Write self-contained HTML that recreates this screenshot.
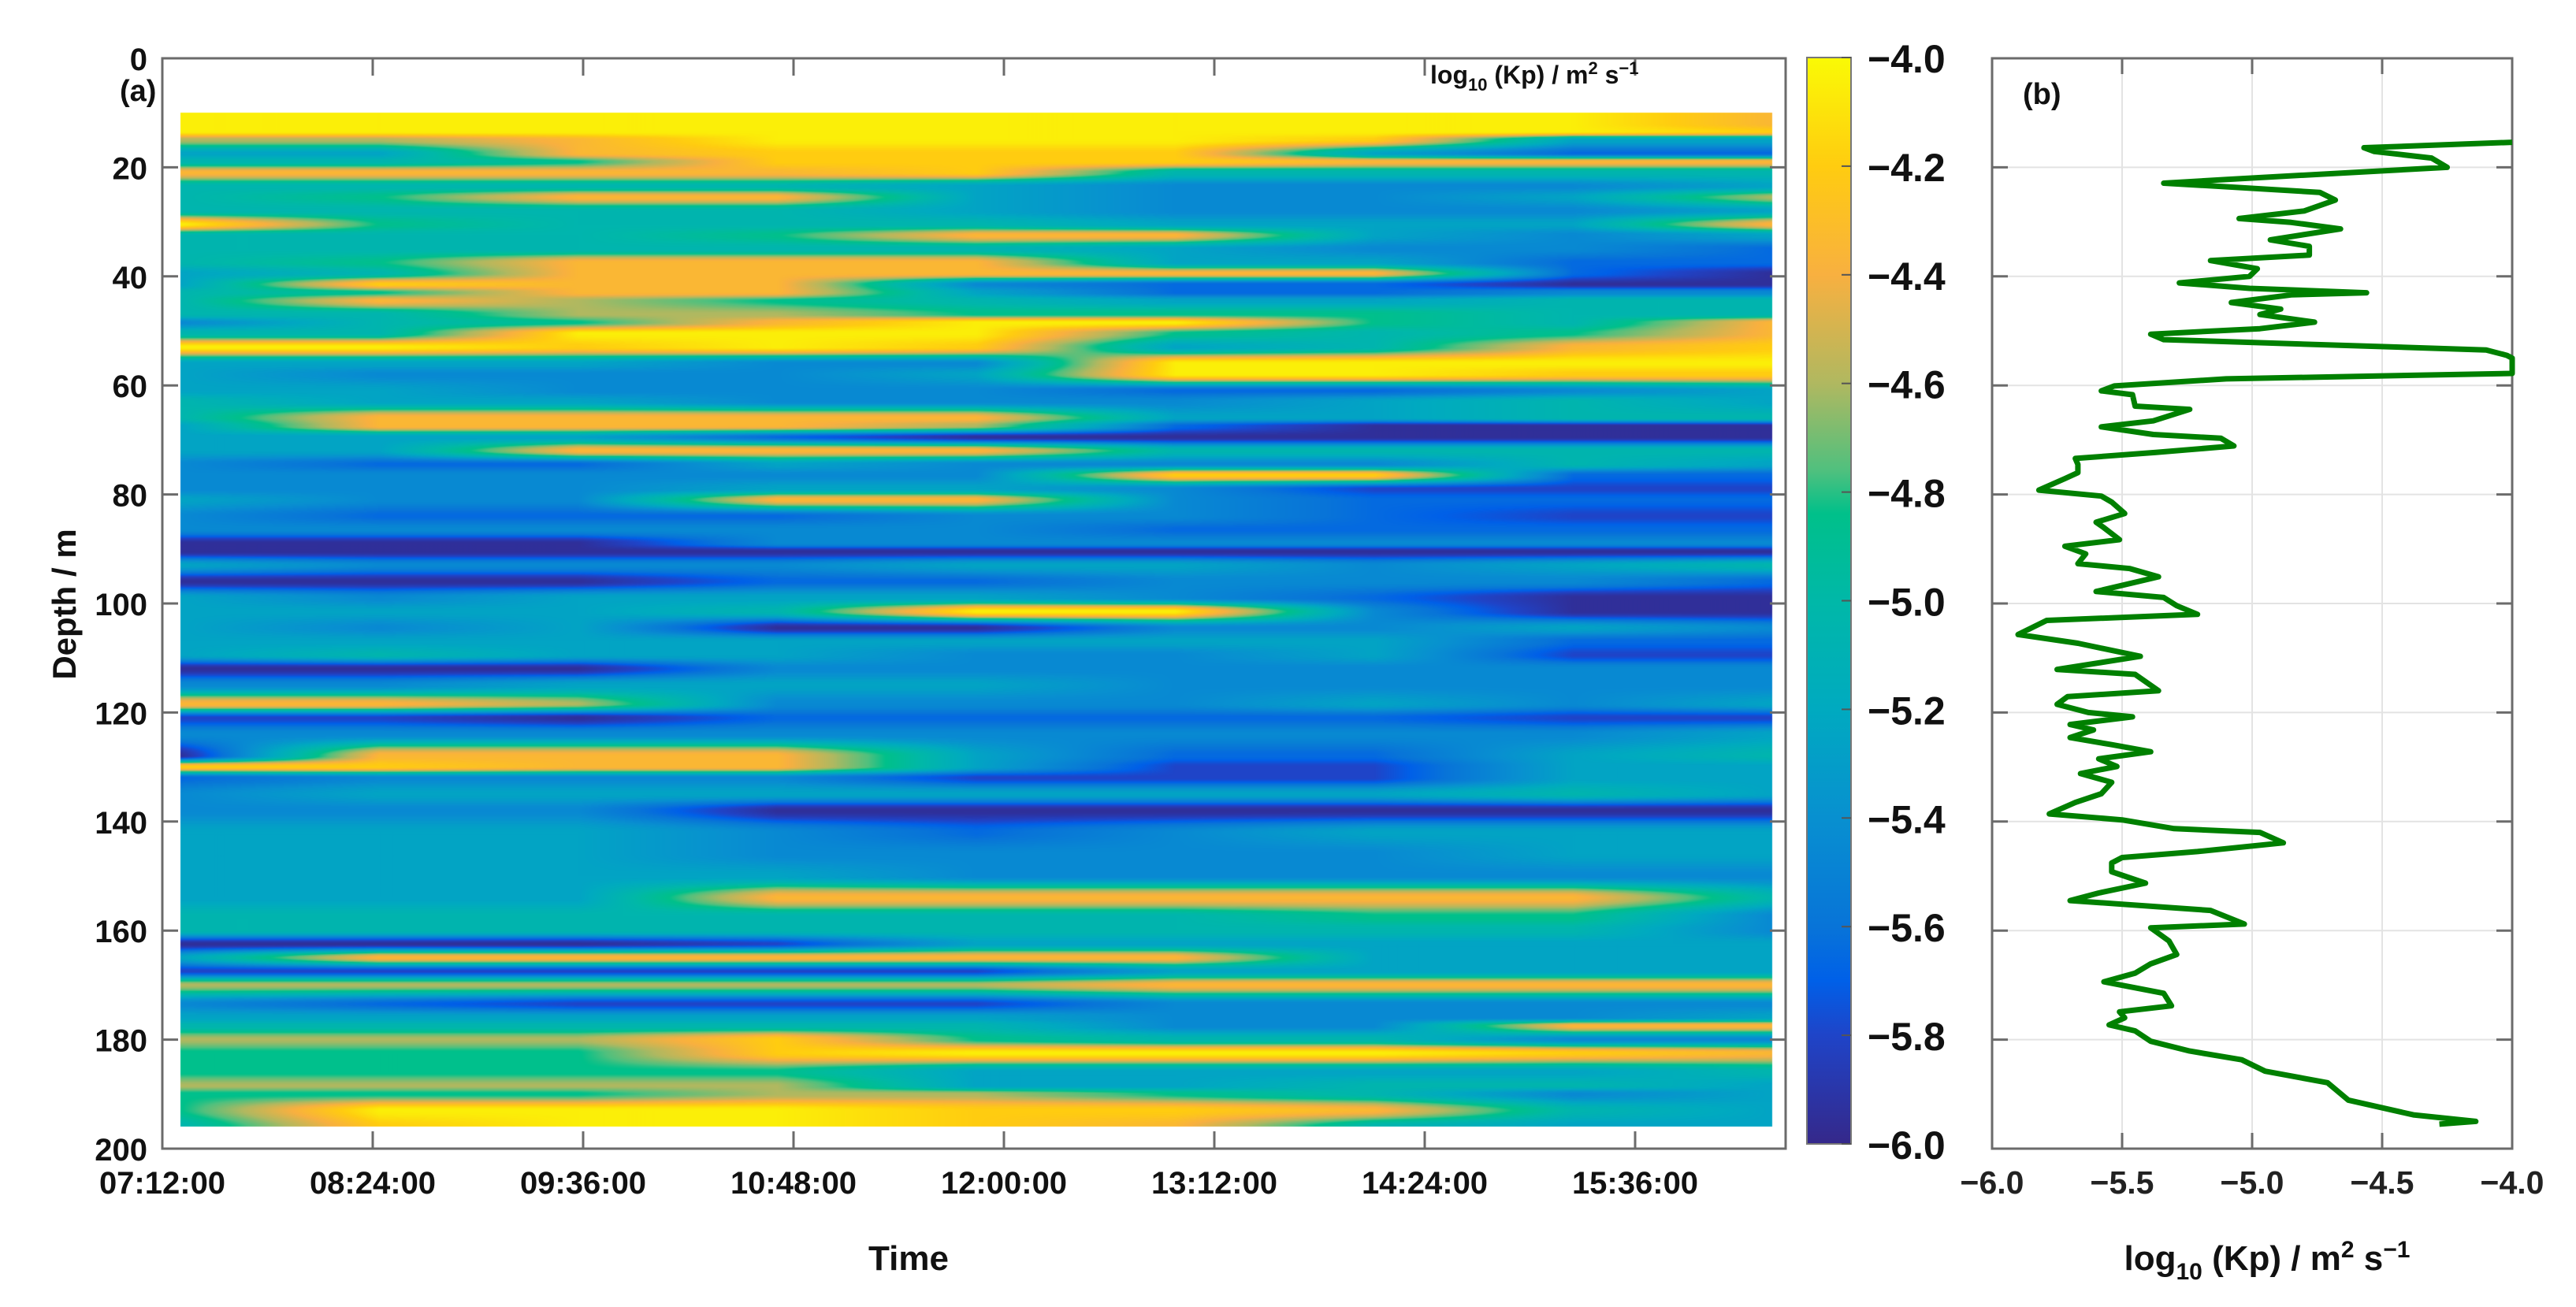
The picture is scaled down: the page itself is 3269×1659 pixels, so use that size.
<!DOCTYPE html>
<html><head><meta charset="utf-8"><style>
html,body{margin:0;padding:0;background:#fff;}
#wrap{position:relative;width:3269px;height:1659px;overflow:hidden;font-family:"Liberation Sans",Arial,sans-serif;}
canvas,svg{position:absolute;left:0;top:0;}
</style></head><body>
<div id="wrap">
<canvas id="hm" width="3269" height="1659"></canvas>
<svg id="sv" width="3269" height="1659"></svg>
</div>
<script>
// ---- heatmap data (panel a) ----
const timeNodes = [6.2, 74.3, 142.4, 210.5, 278.6, 346.7, 414.8, 482.9, 551]; // minutes since 07:12
const depthRows = [10,12,13.5,15,17.5,19,21,23.5,25.5,28,30.5,32.5,35,37.5,39.5,41.5,43,44.5,47,48.5,50.5,53,56,58,61,63,66,67.5,69.5,72,74.5,76.5,79,81,84,86.5,89,90.5,93,96,99,101.5,104.5,107,109.5,112,115,118.5,121,124,128,130,132,135,138,142,146,150,154,157.5,160,162.5,165,167.5,170,173.5,176,177.5,180,182.5,186,188.5,190,193,196];
const kpGrid = [
[-4.05,-4.05,-4.05,-4.05,-4.05,-4.05,-4.05,-4.05,-4.35],
[-4.05,-4.05,-4.05,-4.05,-4.05,-4.05,-4.05,-4.05,-4.35],
[-4.05,-4.05,-4.05,-4.05,-4.05,-4.05,-4.05,-4.05,-4.2],
[-4.6,-4.6,-4.35,-4.05,-4.05,-4.05,-4.2,-5.25,-5.25],
[-5.25,-5.25,-4.35,-4.2,-4.2,-4.2,-5.25,-5.65,-5.65],
[-5.05,-5.05,-4.85,-4.2,-4.2,-4.2,-4.35,-4.35,-4.35],
[-4.35,-4.35,-4.35,-4.35,-4.2,-5.05,-5.05,-5.05,-5.05],
[-5.05,-5.05,-5.05,-5.05,-5.25,-5.45,-5.45,-5.45,-5.25],
[-5.05,-4.85,-4.35,-4.35,-5.25,-5.45,-5.45,-5.25,-4.6],
[-5.05,-5.05,-5.05,-5.05,-5.25,-5.45,-5.45,-5.45,-5.25],
[-4.05,-4.85,-5.05,-5.05,-5.05,-5.25,-5.25,-5.25,-4.35],
[-5.05,-5.05,-5.05,-4.85,-4.35,-4.35,-5.25,-5.45,-5.25],
[-5.05,-5.05,-5.05,-5.05,-5.05,-5.25,-5.45,-5.45,-5.65],
[-5.05,-4.85,-4.35,-4.35,-4.35,-5.25,-5.25,-5.65,-5.65],
[-5.25,-5.05,-4.35,-4.35,-4.35,-4.35,-4.35,-5.65,-5.95],
[-5.25,-4.2,-4.35,-4.35,-5.45,-5.65,-5.65,-5.95,-5.95],
[-5.05,-4.85,-4.35,-4.35,-5.25,-5.65,-5.65,-5.45,-5.45],
[-5.05,-4.35,-4.6,-4.85,-5.05,-5.25,-5.25,-5.05,-5.05],
[-5.05,-5.05,-4.6,-4.6,-4.85,-4.85,-4.85,-5.05,-5.05],
[-5.45,-5.05,-4.85,-4.35,-4.05,-4.05,-4.85,-5.05,-4.35],
[-5.05,-5.05,-4.05,-4.05,-4.05,-4.85,-5.05,-4.85,-4.35],
[-4.05,-4.05,-4.2,-4.05,-4.2,-5.25,-5.05,-4.35,-4.2],
[-5.25,-5.25,-5.25,-5.45,-5.45,-4.05,-4.05,-4.05,-4.05],
[-5.25,-5.45,-5.45,-5.45,-5.25,-4.05,-4.05,-4.2,-4.2],
[-5.25,-5.25,-5.45,-5.45,-5.45,-5.65,-5.65,-5.45,-5.25],
[-5.05,-5.25,-5.25,-5.45,-5.45,-5.45,-5.25,-5.05,-5.25],
[-5.05,-4.35,-4.35,-4.35,-4.35,-5.25,-5.25,-5.05,-5.05],
[-5.25,-4.35,-4.35,-4.35,-4.6,-5.65,-5.95,-5.95,-5.95],
[-5.25,-5.25,-5.25,-5.65,-5.95,-5.95,-5.95,-5.95,-5.95],
[-5.25,-5.25,-4.35,-4.35,-4.35,-5.05,-5.05,-5.05,-5.05],
[-5.45,-5.65,-5.65,-5.25,-5.45,-5.45,-5.45,-5.05,-5.25],
[-5.45,-5.45,-5.45,-5.45,-5.45,-4.2,-4.2,-5.65,-5.65],
[-5.45,-5.45,-5.45,-5.25,-5.25,-5.45,-5.8,-5.8,-5.8],
[-5.25,-5.45,-5.45,-4.35,-4.35,-5.45,-5.65,-5.65,-5.65],
[-5.45,-5.65,-5.65,-5.65,-5.45,-5.45,-5.65,-5.8,-5.8],
[-5.45,-5.45,-5.45,-5.45,-5.45,-5.65,-5.65,-5.65,-5.65],
[-5.95,-5.95,-5.95,-5.45,-5.45,-5.45,-5.45,-5.45,-5.45],
[-5.95,-5.95,-5.95,-5.95,-5.95,-5.95,-5.95,-5.95,-5.95],
[-5.25,-5.45,-5.45,-5.45,-5.25,-5.25,-5.45,-5.25,-5.05],
[-5.95,-5.95,-5.95,-5.65,-5.65,-5.45,-5.45,-5.45,-5.65],
[-5.25,-5.45,-5.25,-5.25,-5.25,-5.45,-5.65,-5.95,-5.95],
[-5.25,-5.25,-5.25,-5.05,-4.05,-4.05,-5.45,-5.95,-5.95],
[-5.25,-5.45,-5.25,-5.95,-5.95,-5.45,-5.45,-5.25,-5.45],
[-5.25,-5.25,-5.25,-5.25,-5.25,-5.25,-5.25,-5.65,-5.65],
[-5.25,-5.05,-5.25,-5.25,-5.45,-5.45,-5.25,-5.8,-5.8],
[-5.95,-5.95,-5.95,-5.45,-5.45,-5.45,-5.45,-5.45,-5.45],
[-5.45,-5.45,-5.25,-5.25,-5.25,-5.45,-5.45,-5.45,-5.45],
[-4.35,-4.35,-4.6,-5.45,-5.45,-5.45,-5.25,-5.45,-5.25],
[-5.8,-5.8,-5.95,-5.65,-5.65,-5.65,-5.65,-5.8,-5.8],
[-5.45,-5.45,-5.45,-5.45,-5.45,-5.45,-5.45,-5.45,-5.25],
[-5.95,-4.35,-4.35,-4.35,-5.25,-5.65,-5.65,-5.25,-5.05],
[-4.2,-4.2,-4.35,-4.35,-5.25,-5.8,-5.8,-5.25,-5.25],
[-5.65,-5.45,-5.45,-5.45,-5.8,-5.8,-5.8,-5.25,-5.25],
[-5.45,-5.25,-5.25,-5.25,-5.25,-5.25,-5.25,-5.05,-5.25],
[-5.45,-5.45,-5.45,-5.95,-5.95,-5.95,-5.95,-5.95,-5.95],
[-5.25,-5.25,-5.25,-5.45,-5.65,-5.45,-5.25,-5.25,-5.25],
[-5.25,-5.25,-5.25,-5.45,-5.45,-5.45,-5.45,-5.25,-5.25],
[-5.25,-5.25,-5.25,-5.25,-5.45,-5.45,-5.45,-5.45,-5.45],
[-5.25,-5.25,-5.25,-4.35,-4.35,-4.35,-4.35,-4.35,-5.05],
[-5.05,-5.05,-5.05,-5.05,-5.05,-5.05,-4.85,-4.85,-5.45],
[-5.05,-5.05,-5.05,-5.05,-5.05,-5.05,-5.05,-5.05,-5.45],
[-5.95,-5.95,-5.95,-5.8,-5.25,-5.25,-5.25,-5.25,-5.25],
[-5.25,-4.35,-4.35,-4.35,-4.35,-4.35,-5.25,-5.25,-5.25],
[-5.8,-5.8,-5.8,-5.8,-5.8,-5.25,-5.25,-5.25,-5.25],
[-4.6,-4.6,-4.6,-4.6,-4.6,-4.35,-4.35,-4.35,-4.35],
[-5.45,-5.65,-5.8,-5.8,-5.8,-5.45,-5.45,-5.45,-5.45],
[-5.25,-5.25,-5.25,-5.25,-5.25,-5.45,-5.45,-5.45,-5.25],
[-5.05,-5.05,-5.05,-5.05,-5.05,-5.45,-5.45,-4.35,-4.35],
[-4.6,-4.6,-4.6,-4.2,-4.85,-5.05,-5.05,-5.45,-5.45],
[-4.85,-4.85,-4.85,-4.2,-4.05,-4.05,-4.05,-4.2,-4.35],
[-4.85,-4.85,-4.85,-4.85,-5.25,-5.25,-5.25,-5.25,-5.05],
[-4.6,-4.6,-4.6,-4.6,-5.25,-5.25,-5.05,-5.05,-5.25],
[-4.85,-4.85,-4.85,-4.6,-4.6,-4.85,-5.05,-5.45,-5.25],
[-4.85,-4.05,-4.05,-4.05,-4.2,-4.2,-4.35,-5.05,-5.25],
[-5.05,-4.2,-4.05,-4.05,-4.2,-4.35,-5.05,-5.25,-5.25]
];
// ---- profile data (panel b) ----
const profDepth = [15.4,16.4,17.1,18.3,20,20.7,22.2,22.9,23.4,24.6,26,28,29.4,30.1,31.3,33.3,34.5,36.1,37.1,38.6,40,41.2,42.2,43,43.4,44.8,46,47,48.4,49.6,50.6,51.6,53.5,54.5,55,57.8,58.8,60.1,61,61.7,63.8,64.4,66.5,67.6,69,69.7,71.1,72.3,73.4,74.5,76,77.1,79.2,80.3,81.4,83.5,85.1,86.1,88.3,89.5,90.9,92.7,93.6,95.1,97.8,98.9,100.4,102,103.1,105.7,107.3,109.7,112.1,113,116,117.1,118.5,120,120.8,122.2,123.2,124.6,125.9,127.2,128.5,129.9,131.2,132.8,134.9,136.5,138.6,139.7,141.3,142,143.9,145.5,146.6,147.6,149.2,151.3,153.1,154.5,155.6,156.3,158.8,159.5,161.9,164.4,166.1,167.8,169.4,171.5,173.8,174.9,176,177.3,178.4,180.3,182.1,183.7,185.8,187.9,191.1,193.8,195,195.5];
const profKp = [-4.0,-4.57,-4.53,-4.31,-4.25,-4.52,-5.09,-5.34,-5.16,-4.74,-4.68,-4.80,-5.05,-4.85,-4.66,-4.93,-4.78,-4.78,-5.16,-4.98,-5.01,-5.28,-5.01,-4.56,-4.85,-5.08,-4.89,-4.97,-4.76,-4.97,-5.39,-5.34,-4.10,-4.02,-4.0,-4.0,-5.1,-5.53,-5.58,-5.46,-5.45,-5.24,-5.38,-5.58,-5.38,-5.12,-5.07,-5.37,-5.68,-5.67,-5.67,-5.72,-5.82,-5.58,-5.54,-5.49,-5.6,-5.57,-5.51,-5.72,-5.64,-5.67,-5.47,-5.36,-5.6,-5.34,-5.29,-5.21,-5.79,-5.9,-5.67,-5.43,-5.75,-5.45,-5.36,-5.71,-5.75,-5.63,-5.46,-5.70,-5.61,-5.70,-5.54,-5.39,-5.59,-5.52,-5.66,-5.54,-5.58,-5.68,-5.78,-5.5,-5.30,-4.97,-4.88,-5.21,-5.5,-5.54,-5.54,-5.41,-5.59,-5.70,-5.37,-5.16,-5.03,-5.39,-5.32,-5.29,-5.39,-5.45,-5.57,-5.34,-5.31,-5.51,-5.49,-5.55,-5.45,-5.39,-5.24,-5.04,-4.95,-4.71,-4.63,-4.38,-4.14,-4.28];
const depthTicks = [0,20,40,60,80,100,120,140,160,180,200];
const timeTickLabels = ["07:12:00","08:24:00","09:36:00","10:48:00","12:00:00","13:12:00","14:24:00","15:36:00"];
const cbTicks = [-4.0,-4.2,-4.4,-4.6,-4.8,-5.0,-5.2,-5.4,-5.6,-5.8,-6.0];
const kpTicks = [-6.0,-5.5,-5.0,-4.5,-4.0];

// ---- scales ----
const A = {left:206,right:2266,top:74,bottom:1458};
const B = {left:2528,right:3188,top:74,bottom:1458};
const CB = {left:2293,right:2349,top:73,bottom:1452};
const yD = d => A.top + d*(A.bottom-A.top)/200;
const xT = m => A.left + m*267/72;
const xK = v => B.left + (v+6)*(B.right-B.left)/2;
const yCB = v => CB.bottom - (v+6)/2*(CB.bottom-CB.top);

const stops = [[0,[53,40,138]],[0.1,[31,68,200]],[0.15,[0,96,232]],[0.2,[8,116,216]],[0.3,[8,144,208]],[0.4,[0,170,192]],[0.5,[0,184,168]],[0.58,[0,192,138]],[0.62,[80,192,126]],[0.7,[176,184,96]],[0.8,[248,176,64]],[0.9,[255,204,16]],[1,[250,250,5]]];
function cmap(v){
  let t=(v+6)/2; t=Math.max(0,Math.min(1,t));
  for(let i=1;i<stops.length;i++){ if(t<=stops[i][0]){const a=stops[i-1],b=stops[i];const f=(t-a[0])/(b[0]-a[0]);return [0,1,2].map(k=>a[1][k]+f*(b[1][k]-a[1][k]));}}
  return stops[stops.length-1][1];
}
// ---- heatmap draw ----
(function(){
  const cv=document.getElementById('hm'),ctx=cv.getContext('2d');
  const x0=Math.round(xT(timeNodes[0])),x1=Math.round(xT(timeNodes[timeNodes.length-1]));
  const y0=Math.round(yD(depthRows[0])),y1=Math.round(yD(depthRows[depthRows.length-1]));
  const w=x1-x0,h=y1-y0,img=ctx.createImageData(w,h);
  const colIdx=[],colF=[];
  for(let px=0;px<w;px++){const m=timeNodes[0]+(px+0.5)/w*(timeNodes[timeNodes.length-1]-timeNodes[0]);let j=0;while(j<timeNodes.length-2&&m>timeNodes[j+1])j++;colIdx.push(j);colF.push((m-timeNodes[j])/(timeNodes[j+1]-timeNodes[j]));}
  let p=0;
  for(let py=0;py<h;py++){
    const d=depthRows[0]+(py+0.5)/h*(depthRows[depthRows.length-1]-depthRows[0]);
    let i=0;while(i<depthRows.length-2&&d>depthRows[i+1])i++;
    let fy=(d-depthRows[i])/(depthRows[i+1]-depthRows[i]);
    fy=fy*fy*(3-2*fy);
    const r0=kpGrid[i],r1=kpGrid[i+1];
    for(let px=0;px<w;px++){
      const j=colIdx[px],fx=colF[px];
      const v=(r0[j]*(1-fx)+r0[j+1]*fx)*(1-fy)+(r1[j]*(1-fx)+r1[j+1]*fx)*fy;
      const c=cmap(v);img.data[p++]=c[0];img.data[p++]=c[1];img.data[p++]=c[2];img.data[p++]=255;
    }
  }
  ctx.putImageData(img,x0,y0);
})();
// ---- svg overlay ----
const NS='http://www.w3.org/2000/svg',sv=document.getElementById('sv');
function el(tag,attrs,parent,txt){const e=document.createElementNS(NS,tag);for(const k in attrs)e.setAttribute(k,attrs[k]);if(txt!==undefined)e.textContent=txt;(parent||sv).appendChild(e);return e;}
const axisCol='#6b6b6b';
const defs=el('defs',{});
const lg=el('linearGradient',{id:'cbg',x1:'0',y1:'1',x2:'0',y2:'0'},defs);
stops.forEach(s=>el('stop',{offset:s[0],'stop-color':'rgb('+s[1].map(Math.round).join(',')+')'},lg));
let r=el('rect',{x:A.left,y:A.top,width:A.right-A.left,height:A.bottom-A.top,fill:'none',stroke:axisCol,'stroke-width':3});


depthTicks.forEach(d=>{
  const y=yD(d);
  el('line',{x1:A.left,y1:y,x2:A.left+20,y2:y,stroke:axisCol,'stroke-width':3});
  el('line',{x1:A.right,y1:y,x2:A.right-20,y2:y,stroke:axisCol,'stroke-width':3});
  const t=el('text',{x:187,y:y+15,'text-anchor':'end','font-size':40,'font-weight':'bold',fill:'#111'},null,String(d));
  
  
});
timeTickLabels.forEach((lab,i)=>{
  const x=xT(i*72);
  if(i>0){el('line',{x1:x,y1:A.bottom,x2:x,y2:A.bottom-22,stroke:axisCol,'stroke-width':3});
  el('line',{x1:x,y1:A.top,x2:x,y2:A.top+22,stroke:axisCol,'stroke-width':3});}
  const t=el('text',{x:x,y:1515,'text-anchor':'middle','font-size':40,'font-weight':'bold',fill:'#111'},null,lab);
  
  
});
let tt=el('text',{x:1153,y:1612,'text-anchor':'middle','font-size':44,'font-weight':'bold',fill:'#111'},null,'Time');


tt=el('text',{x:0,y:0,transform:'translate(96,767) rotate(-90)','text-anchor':'middle','font-size':42,'font-weight':'bold',fill:'#111'},null,'Depth / m');


tt=el('text',{x:152,y:128,'font-size':38,'font-weight':'bold',fill:'#111'},null,'(a)');


tt=el('text',{x:1815,y:106,'font-size':32,'font-weight':'bold',fill:'#111'});


tt.innerHTML='log<tspan font-size="22" dy="9">10</tspan><tspan dy="-9"> (Kp) / m</tspan><tspan font-size="22" dy="-12">2</tspan><tspan dy="12"> s</tspan><tspan font-size="22" dy="-12">−1</tspan>';
r=el('rect',{x:CB.left,y:CB.top,width:CB.right-CB.left,height:CB.bottom-CB.top,fill:'url(#cbg)',stroke:'#777','stroke-width':2});


cbTicks.forEach(v=>{
  const y=yCB(v);
  el('line',{x1:CB.right,y1:y,x2:CB.right-12,y2:y,stroke:'#555','stroke-width':2});
  const t=el('text',{x:2370,y:y+19,'font-size':50,'font-weight':'bold',fill:'#111'},null,'−'+Math.abs(v).toFixed(1));
  
  
});
kpTicks.forEach(v=>{const x=xK(v);
  if(v>-6&&v<-4)el('line',{x1:x,y1:B.top,x2:x,y2:B.bottom,stroke:'#e3e3e3','stroke-width':2});
  el('line',{x1:x,y1:B.bottom,x2:x,y2:B.bottom-20,stroke:axisCol,'stroke-width':3});
  el('line',{x1:x,y1:B.top,x2:x,y2:B.top+20,stroke:axisCol,'stroke-width':3});
  const t=el('text',{x:x,y:1515,'text-anchor':'middle','font-size':41,'font-weight':'bold',fill:'#222'},null,'−'+Math.abs(v).toFixed(1));
  
  
});
depthTicks.forEach(d=>{const y=yD(d);
  if(d>0&&d<200)el('line',{x1:B.left,y1:y,x2:B.right,y2:y,stroke:'#e3e3e3','stroke-width':2});
  el('line',{x1:B.left,y1:y,x2:B.left+20,y2:y,stroke:axisCol,'stroke-width':3});
  el('line',{x1:B.right,y1:y,x2:B.right-20,y2:y,stroke:axisCol,'stroke-width':3});
});
r=el('rect',{x:B.left,y:B.top,width:B.right-B.left,height:B.bottom-B.top,fill:'none',stroke:axisCol,'stroke-width':3});


const pts=profDepth.map((d,i)=>xK(profKp[i]).toFixed(1)+','+yD(d).toFixed(1)).join(' ');
const pl=el('polyline',{points:pts,fill:'none',stroke:'#008000','stroke-width':7,'stroke-linejoin':'round'});


tt=el('text',{x:2567,y:132,'font-size':38,'font-weight':'bold',fill:'#111'},null,'(b)');


tt=el('text',{x:2877,y:1612,'text-anchor':'middle','font-size':44,'font-weight':'bold',fill:'#111'});


tt.innerHTML='log<tspan font-size="30" dy="12">10</tspan><tspan dy="-12"> (Kp) / m</tspan><tspan font-size="30" dy="-16">2</tspan><tspan dy="16"> s</tspan><tspan font-size="30" dy="-16">−1</tspan>';
</script>
</body></html>
